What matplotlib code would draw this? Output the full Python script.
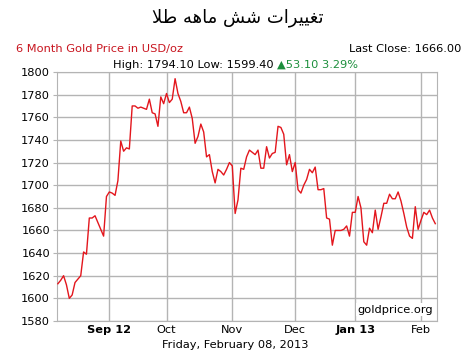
import numpy as np
import pandas as pd
import matplotlib.pyplot as plt

# six months of weekday closes, Aug 8 2012 -> Feb 8 2013
start_date = "2012-08-08"
prices = [1612.9, 1616, 1620, 1612, 1600, 1603, 1614, 1617, 1620, 1641,
          1639, 1671, 1671, 1673, 1667, 1661, 1655, 1690, 1694, 1693,
          1691, 1704, 1739, 1730, 1733, 1732, 1770, 1770, 1768, 1769,
          1768, 1767, 1776, 1764, 1763, 1752, 1778, 1772, 1781, 1773,
          1776, 1794.1, 1781, 1774, 1764, 1764, 1769, 1759, 1737, 1743,
          1754, 1747, 1725, 1727, 1712, 1702, 1714, 1712, 1709, 1714,
          1720, 1717, 1675, 1687, 1715, 1714, 1725, 1731, 1729, 1727,
          1731, 1715, 1715, 1734, 1724, 1728, 1729, 1752, 1751, 1745,
          1718, 1727, 1712, 1720, 1696, 1693, 1700, 1705, 1714, 1711,
          1716, 1696, 1696, 1697, 1671, 1670, 1647, 1660, 1660, 1660,
          1661, 1664, 1655, 1676, 1676, 1690, 1680, 1650, 1647, 1662,
          1658, 1678, 1661, 1672, 1684, 1684, 1692, 1688, 1688, 1694,
          1686, 1675, 1663, 1655, 1653, 1681, 1661, 1669, 1676, 1674,
          1678, 1671, 1666]
y_ticks = [1580, 1600, 1620, 1640, 1660, 1680, 1700, 1720, 1740, 1760, 1780, 1800]
month_labels = ["Sep 12", "Oct", "Nov", "Dec", "Jan 13", "Feb"]
bold_labels = ["Sep 12", "Jan 13"]

title = "ﻼﻃ ﻪﻫﺎﻣ ﺶﺷ ﺕﺍﺮﻴﻴﻐﺗ"  # Persian, pre-shaped for display
subtitle = "6 Month Gold Price in USD/oz"
last_close = "Last Close: 1666.00"
hi_lo = "High: 1794.10 Low: 1599.40 "
change = "▲53.10 3.29%"
date_text = "Friday, February 08, 2013"
source = "goldprice.org"

dates = pd.bdate_range(start_date, periods=len(prices))
x = np.arange(len(prices))
month_pos = [i for i in range(1, len(dates)) if dates[i].month != dates[i - 1].month]

W, H = 470, 361
fs = 8.2
fig = plt.figure(figsize=(W / 100, H / 100), dpi=100)
ax = fig.add_axes([57 / W, 1 - 321 / H, (437 - 57) / W, (321 - 72) / H])

grid_c = "#b4b4b4"
ax.plot(x, prices, color="#e3161d", lw=1.0, zorder=3)
ax.set_xlim(-0.3, 132.6)
ax.set_ylim(1580, 1800)
ax.set_yticks(y_ticks)
ax.set_xticks(month_pos)
ax.set_xticklabels(month_labels)
for lab in ax.get_xticklabels():
    if lab.get_text() in bold_labels:
        lab.set_fontweight("bold")
ax.grid(True, color=grid_c, lw=1)
for s in ax.spines.values():
    s.set_color(grid_c)
ax.tick_params(axis="y", length=3, color=grid_c, labelsize=fs, pad=2)
ax.tick_params(axis="x", length=0, labelsize=fs, pad=3)

def fx(px):
    return px / W

def fy(py):
    return 1 - py / H

fig.text(fx(238), fy(18), title, ha="center", va="center", fontsize=13,
         family=["DejaVu Sans"])
fig.text(fx(16), fy(49), subtitle, ha="left", va="center", fontsize=fs, color="#c8141e")
fig.text(fx(461), fy(49), last_close, ha="right", va="center", fontsize=fs)
t1 = fig.text(fx(113), fy(65), hi_lo, ha="left", va="center", fontsize=fs)
fig.canvas.draw()
bb = t1.get_window_extent()
fig.text(bb.x1 / W, fy(65), change, ha="left", va="center", fontsize=fs, color="#1c8f3c")
fig.text(fx(235), fy(345), date_text, ha="center", va="center", fontsize=fs)
ax.text(0.99, 0.025, source, transform=ax.transAxes, ha="right", va="bottom",
        fontsize=fs, zorder=4, bbox=dict(facecolor="white", edgecolor="none", pad=1))

fig.savefig("out.png", dpi=100)
